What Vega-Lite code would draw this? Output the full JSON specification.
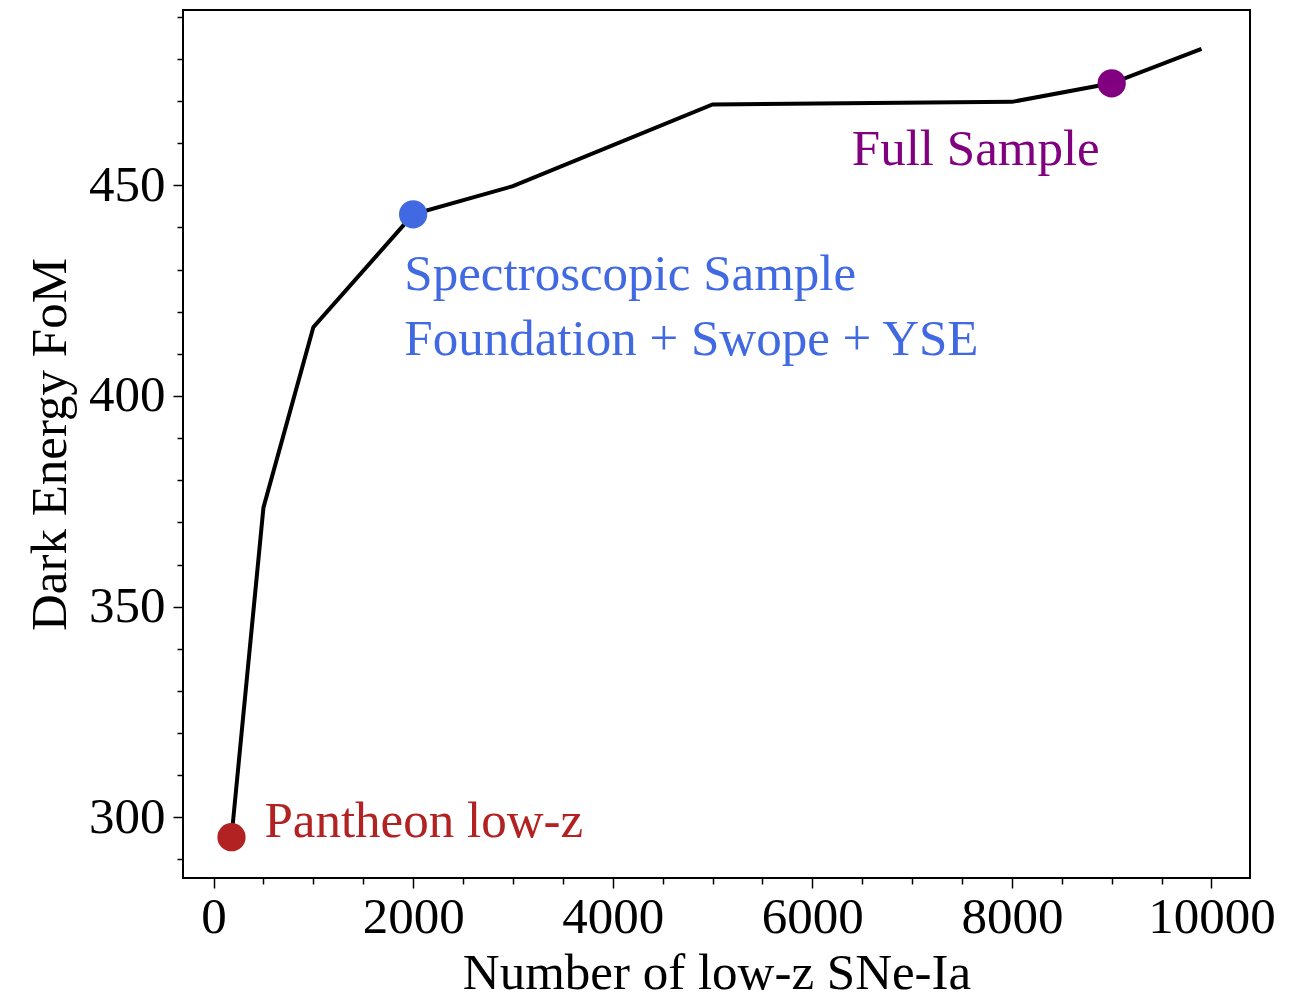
{
  "$schema": "https://vega.github.io/schema/vega-lite/v6.json",
  "autosize": {"type": "none"},
  "width": 1067,
  "height": 868,
  "padding": {"left": 183, "top": 10, "right": 56, "bottom": 121},
  "background": "white",
  "config": {
    "view": {"stroke": "black", "strokeWidth": 2},
    "font": "Liberation Serif"
  },
  "datasets": {
    "curve": [
      {"n": 180, "fom": 295.3},
      {"n": 500, "fom": 373.5},
      {"n": 1000, "fom": 416.3},
      {"n": 2000, "fom": 443.1},
      {"n": 3000, "fom": 449.8},
      {"n": 5000, "fom": 469.2},
      {"n": 8000, "fom": 469.8},
      {"n": 9000, "fom": 474.2},
      {"n": 9900, "fom": 482.4}
    ],
    "marks": [
      {"n": 180, "fom": 295.3, "group": "Pantheon low-z"},
      {"n": 2000, "fom": 443.1, "group": "Spectroscopic Sample"},
      {"n": 9000, "fom": 474.2, "group": "Full Sample"}
    ],
    "labels": [
      {"n": 510, "fom": 298.8, "group": "Pantheon low-z", "text": "Pantheon low-z"},
      {"n": 1912, "fom": 428.7, "group": "Spectroscopic Sample", "text": "Spectroscopic Sample"},
      {"n": 1912, "fom": 413.3, "group": "Spectroscopic Sample", "text": "Foundation + Swope + YSE"},
      {"n": 6396, "fom": 458.3, "group": "Full Sample", "text": "Full Sample"}
    ]
  },
  "layer": [
    {
      "data": {"name": "curve"},
      "mark": {"type": "line", "color": "black", "strokeWidth": 4, "clip": true},
      "encoding": {
        "x": {
          "field": "n", "type": "quantitative",
          "scale": {"domain": [-306, 10386], "nice": false, "zero": false},
          "axis": {
            "title": "Number of low-z SNe-Ia",
            "titleFontSize": 51, "titleFontWeight": "normal", "titleColor": "black", "titlePadding": 6,
            "values": [0, 500, 1000, 1500, 2000, 2500, 3000, 3500, 4000, 4500, 5000, 5500, 6000, 6500, 7000, 7500, 8000, 8500, 9000, 9500, 10000],
            "labelExpr": "datum.value % 2000 === 0 ? format(datum.value, 'd') : ''",
            "labelFontSize": 51, "labelColor": "black", "labelPadding": 4, "labelFlush": false, "labelOverlap": false,
            "tickSize": {"condition": {"test": "datum.value % 2000 === 0", "value": 10}, "value": 6},
            "tickColor": "black", "tickWidth": 1.5,
            "domain": false, "grid": false
          }
        },
        "y": {
          "field": "fom", "type": "quantitative",
          "scale": {"domain": [285.6, 491.6], "nice": false, "zero": false},
          "axis": {
            "title": "Dark Energy FoM",
            "titleFontSize": 51, "titleFontWeight": "normal", "titleColor": "black", "titlePadding": 12,
            "values": [290, 300, 310, 320, 330, 340, 350, 360, 370, 380, 390, 400, 410, 420, 430, 440, 450, 460, 470, 480, 490],
            "labelExpr": "datum.value % 50 === 0 ? format(datum.value, 'd') : ''",
            "labelFontSize": 51, "labelColor": "black", "labelPadding": 8, "labelFlush": false, "labelOverlap": false,
            "tickSize": {"condition": {"test": "datum.value % 50 === 0", "value": 10}, "value": 6},
            "tickColor": "black", "tickWidth": 1.5,
            "domain": false, "grid": false
          }
        }
      }
    },
    {
      "data": {"name": "marks"},
      "mark": {"type": "point", "filled": true, "opacity": 1, "size": 800, "shape": "circle"},
      "encoding": {
        "x": {"field": "n", "type": "quantitative"},
        "y": {"field": "fom", "type": "quantitative"},
        "color": {
          "field": "group", "type": "nominal",
          "scale": {"domain": ["Pantheon low-z", "Spectroscopic Sample", "Full Sample"], "range": ["#b22222", "#4169e1", "#800080"]},
          "legend": null
        }
      }
    },
    {
      "data": {"name": "labels"},
      "mark": {"type": "text", "align": "left", "baseline": "middle", "fontSize": 51, "font": "Liberation Serif"},
      "encoding": {
        "x": {"field": "n", "type": "quantitative"},
        "y": {"field": "fom", "type": "quantitative"},
        "text": {"field": "text"},
        "color": {"field": "group", "type": "nominal", "legend": null}
      }
    }
  ]
}
